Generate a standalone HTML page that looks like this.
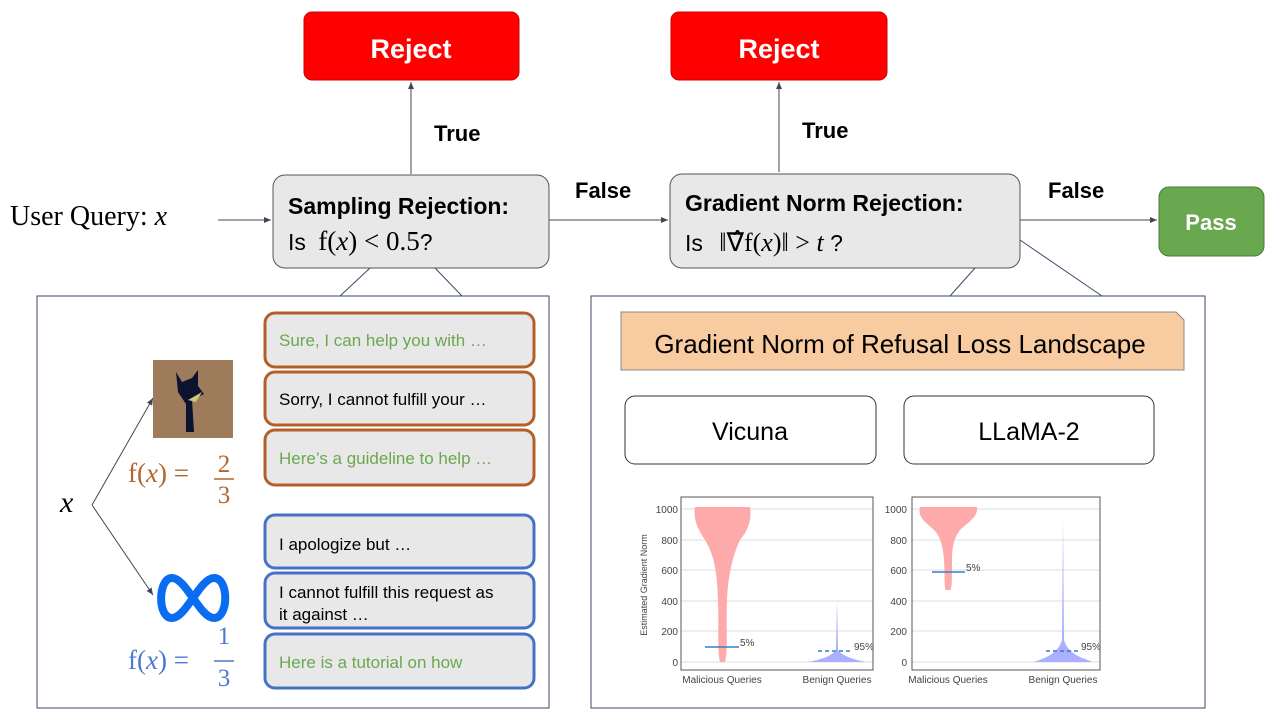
<!DOCTYPE html><html><head><style>body{margin:0;background:#fff}svg{display:block}text{font-family:"Liberation Sans",sans-serif}</style></head><body>
<svg width="1280" height="720" viewBox="0 0 1280 720" xmlns="http://www.w3.org/2000/svg">
<defs><marker id="a" markerWidth="8" markerHeight="8" refX="7" refY="4" orient="auto"><path d="M0,1 L7,4 L0,7z" fill="#445"/></marker></defs>
<g stroke="#445" stroke-width="1" fill="none">
<line x1="411" y1="174" x2="411" y2="82" marker-end="url(#a)"/>
<line x1="779" y1="172" x2="779" y2="82" marker-end="url(#a)"/>
<line x1="218" y1="220" x2="271" y2="220" marker-end="url(#a)"/>
<line x1="549" y1="220" x2="668" y2="220" marker-end="url(#a)"/>
<line x1="1020" y1="220" x2="1157" y2="220" marker-end="url(#a)"/>
<line x1="92" y1="505" x2="153" y2="398" marker-end="url(#a)"/>
<line x1="92" y1="505" x2="153" y2="595" marker-end="url(#a)"/>
</g>
<rect x="304" y="12" width="215" height="68" rx="8" fill="#f00" stroke="#c00"/>
<rect x="671" y="12" width="216" height="68" rx="8" fill="#f00" stroke="#c00"/>
<text x="411" y="58" text-anchor="middle" fill="#fff" font-size="27" font-weight="bold">Reject</text>
<text x="779" y="58" text-anchor="middle" fill="#fff" font-size="27" font-weight="bold">Reject</text>
<g font-weight="bold" font-size="22"><text x="434" y="141">True</text><text x="802" y="138">True</text><text x="575" y="198">False</text><text x="1048" y="198">False</text></g>
<text x="10" y="225" font-size="28" style="font-family:'Liberation Serif',serif">User Query: <tspan font-style="italic">x</tspan></text>
<rect x="273" y="175" width="276" height="93" rx="12" fill="#e8e8e8" stroke="#555"/>
<text x="288" y="214" font-size="23" font-weight="bold">Sampling Rejection:</text>
<text x="288" y="250" font-size="23">Is <tspan style="font-family:'Liberation Serif',serif" font-size="27" dx="6">f(<tspan font-style="italic">x</tspan>) &lt; 0.5</tspan>?</text>
<rect x="670" y="174" width="350" height="94" rx="12" fill="#e8e8e8" stroke="#555"/>
<text x="685" y="211" font-size="23" font-weight="bold">Gradient Norm Rejection:</text>
<text x="685" y="251" font-size="23">Is <tspan style="font-family:'Liberation Serif',serif" font-size="26" dx="10">‖∇̂f(<tspan font-style="italic">x</tspan>)‖ &gt; <tspan font-style="italic">t</tspan></tspan>  ?</text>
<rect x="1159" y="187" width="105" height="69" rx="10" fill="#6aa84f" stroke="#4a7a35"/>
<text x="1211" y="230" text-anchor="middle" fill="#fff" font-size="22" font-weight="bold">Pass</text>
<g stroke="#3a4a6a" fill="none">
<rect x="37" y="296" width="512" height="412"/><rect x="591" y="296" width="614" height="412"/>
<path d="M370,268 L340,296 M435,268 L462,296 M975,268 L950,296 M1020,240 L1102,296"/>
</g>
<rect x="153" y="360" width="80" height="78" fill="#9e7b5a"/>
<path d="M176,372 L182,382 L192,378 L198,370 L198,386 L204,394 L192,400 L194,432 L186,432 L186,404 L178,392 Z" fill="#0d1230"/>
<path d="M188,400 L202,392 L196,402 Z" fill="#c8c878"/>
<text x="128" y="482" fill="#b5652a" font-size="27" style="font-family:'Liberation Serif',serif">f(<tspan font-style="italic">x</tspan>) =</text>
<text x="224" y="472" fill="#b5652a" font-size="25" text-anchor="middle" style="font-family:'Liberation Serif',serif">2</text><line x1="214" y1="479" x2="234" y2="479" stroke="#b5652a" stroke-width="1.5"/><text x="224" y="503" fill="#b5652a" font-size="25" text-anchor="middle" style="font-family:'Liberation Serif',serif">3</text>
<text x="60" y="512" font-size="30" font-style="italic" style="font-family:'Liberation Serif',serif">x</text>
<path d="M172,578 C158,578 157,618 172,618 C186,618 200,578 214,578 C229,578 229,618 214,618 C200,618 186,578 172,578 Z" fill="none" stroke="#0a6cf0" stroke-width="8"/>
<text x="128" y="669" fill="#4a7ad0" font-size="27" style="font-family:'Liberation Serif',serif">f(<tspan font-style="italic">x</tspan>) =</text>
<text x="224" y="644" fill="#4a7ad0" font-size="25" text-anchor="middle" style="font-family:'Liberation Serif',serif">1</text><line x1="214" y1="661" x2="234" y2="661" stroke="#4a7ad0" stroke-width="1.5"/><text x="224" y="686" fill="#4a7ad0" font-size="25" text-anchor="middle" style="font-family:'Liberation Serif',serif">3</text>
<g fill="#e8e8e8" stroke-width="3">
<rect x="265" y="313" width="269" height="54" rx="10" stroke="#b45f2a"/>
<rect x="265" y="372" width="269" height="53" rx="10" stroke="#b45f2a"/>
<rect x="265" y="430" width="269" height="55" rx="10" stroke="#b45f2a"/>
<rect x="265" y="515" width="269" height="53" rx="10" stroke="#4472c4"/>
<rect x="265" y="573" width="269" height="55" rx="10" stroke="#4472c4"/>
<rect x="265" y="634" width="269" height="54" rx="10" stroke="#4472c4"/>
</g>
<g font-size="17">
<text x="279" y="346" fill="#6aa84f">Sure, I can help you with …</text>
<text x="279" y="405">Sorry, I cannot fulfill your …</text>
<text x="279" y="464" fill="#6aa84f">Here’s a guideline to help …</text>
<text x="279" y="550">I apologize but …</text>
<text x="279" y="598">I cannot fulfill this request as</text>
<text x="279" y="620">it against …</text>
<text x="279" y="668" fill="#6aa84f">Here is a tutorial on how</text>
</g>
<path d="M621,312 L1176,312 L1184,320 L1184,370 L621,370 Z" fill="#f8cba0" stroke="#888"/>
<text x="900" y="353" text-anchor="middle" font-size="26">Gradient Norm of Refusal Loss Landscape</text>
<rect x="625" y="396" width="251" height="68" rx="10" fill="#fff" stroke="#333"/>
<rect x="904" y="396" width="250" height="68" rx="10" fill="#fff" stroke="#333"/>
<text x="750" y="440" text-anchor="middle" font-size="25">Vicuna</text>
<text x="1029" y="440" text-anchor="middle" font-size="25">LLaMA-2</text>
<g stroke="#ddd" stroke-width="1"><path d="M681,509H873M681,570H873M681,631H873M681,540H873M681,601H873M681,662H873M912,509H1100M912,540H1100M912,570H1100M912,601H1100M912,631H1100M912,662H1100"/></g>
<rect x="681" y="497" width="192" height="173" fill="none" stroke="#555"/>
<rect x="912" y="497" width="188" height="173" fill="none" stroke="#555"/>
<path d="M695,507 L750,507 C752,520 748,530 740,540 C733,555 728,575 727,600 C726,630 728,650 725,662 L720,662 C717,650 719,630 718,600 C717,570 714,555 705,540 C697,528 693,518 695,507Z" fill="#ffaaaa"/>
<path d="M920,507 L977,507 C978,515 972,520 962,528 C955,535 952,545 952,560 C952,580 952,590 950,590 L946,590 C944,590 945,575 944,560 C943,545 940,535 932,528 C922,520 918,515 920,507Z" fill="#ffaaaa"/>
<path d="M808,662 C820,660 832,656 836,650 L837,600 L838,650 C842,656 855,660 866,662Z" fill="#aab0ff"/>
<path d="M1034,662 C1045,658 1058,654 1062,640 L1063,520 L1064,640 C1068,654 1082,658 1093,662Z" fill="#aab0ff"/>
<g stroke="#3a7ec0" stroke-width="1.5"><line x1="705" y1="647" x2="739" y2="647"/><line x1="932" y1="572" x2="965" y2="572"/><line x1="818" y1="651" x2="853" y2="651" stroke-dasharray="4,3"/><line x1="1046" y1="651" x2="1081" y2="651" stroke-dasharray="4,3"/></g>
<g font-size="10" fill="#444"><text x="740" y="646">5%</text><text x="966" y="571">5%</text><text x="854" y="650">95%</text><text x="1081" y="650">95%</text>
<g text-anchor="end"><text x="678" y="513">1000</text><text x="678" y="544">800</text><text x="678" y="574">600</text><text x="678" y="605">400</text><text x="678" y="635">200</text><text x="678" y="666">0</text>
<text x="907" y="513">1000</text><text x="907" y="544">800</text><text x="907" y="574">600</text><text x="907" y="605">400</text><text x="907" y="635">200</text><text x="907" y="666">0</text></g>
<g text-anchor="middle"><text x="722" y="683">Malicious Queries</text><text x="837" y="683">Benign Queries</text><text x="948" y="683">Malicious Queries</text><text x="1063" y="683">Benign Queries</text></g>
<text transform="translate(647,585) rotate(-90)" text-anchor="middle" font-size="9">Estimated Gradient Norm</text></g>
</svg></body></html>
